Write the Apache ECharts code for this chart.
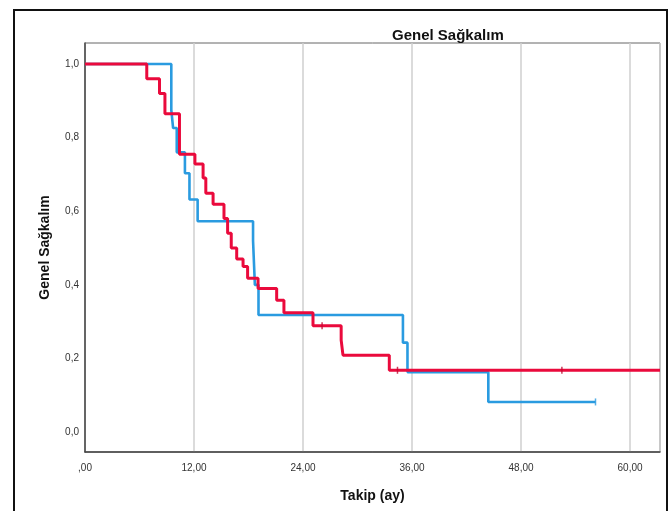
<!DOCTYPE html>
<html>
<head>
<meta charset="utf-8">
<script src="https://cdn.jsdelivr.net/npm/echarts@6/dist/echarts.min.js"></script>
<style>html,body{margin:0;padding:0;background:#fff}#c{width:670px;height:511px}</style>
</head>
<body>
<div id="c"></div>
<script>
// Kaplan-Meier step points: [time (months), survival]
var blueTimes = [0, 9.5, 9.7, 10.1, 11.0, 11.5, 12.4, 18.5, 18.7, 19.1, 35.0, 35.5, 44.4, 56.2];
var blueSurv  = [1.0, 0.875, 0.826, 0.76, 0.703, 0.632, 0.573, 0.52, 0.40, 0.318, 0.243, 0.163, 0.082, 0.082];
var redTimes  = [0, 6.8, 8.2, 8.8, 10.4, 12.1, 13.0, 13.3, 14.1, 15.3, 15.7, 16.1, 16.7, 17.4, 17.9, 19.05, 21.1, 21.9, 25.1, 28.2, 28.4, 33.5, 63.3];
var redSurv   = [1.0, 0.96, 0.92, 0.865, 0.755, 0.728, 0.69, 0.649, 0.619, 0.58, 0.54, 0.50, 0.47, 0.45, 0.418, 0.39, 0.358, 0.324, 0.289, 0.25, 0.209, 0.168, 0.168];
var redCensorT = [26.1, 34.4, 52.5];
var redCensorS = [0.289, 0.168, 0.168];
var blueCensorT = [56.2];
var blueCensorS = [0.082];
var xTicks = [0, 12, 24, 36, 48, 60];
var yTicks = [0, 0.2, 0.4, 0.6, 0.8, 1.0];

function zip(a, b) { return a.map(function (v, i) { return [v, b[i]]; }); }
var BLUE = '#2a9be0', RED = '#ea0a3c';
var chart = echarts.init(document.getElementById('c'), null, {renderer: 'canvas'});
chart.setOption({
  animation: false,
  backgroundColor: '#fff',
  title: {
    text: 'Genel Sağkalım', left: 387, top: 23,
    textStyle: {fontFamily: 'Liberation Sans', fontSize: 15, fontWeight: 'bold', color: '#111'}
  },
  grid: {left: 85, right: 10, top: 43, bottom: 59, show: true, borderColor: '#666', borderWidth: 1},
  xAxis: {
    type: 'value', min: 0, max: 63.3, interval: 12,
    name: 'Takip (ay)', nameLocation: 'middle', nameGap: 37,
    nameTextStyle: {fontFamily: 'Liberation Sans', fontSize: 14, fontWeight: 'bold', color: '#111'},
    axisLine: {show: true, onZero: false, lineStyle: {color: '#444', width: 1.5}},
    axisTick: {show: false},
    axisLabel: {
      margin: 11, fontFamily: 'Liberation Sans', fontSize: 10, color: '#333',
      customValues: xTicks,
      formatter: function (v) { return v === 0 ? ',00' : v.toFixed(2).replace('.', ','); }
    },
    splitLine: {show: true, lineStyle: {color: '#cfcfcf', width: 1.5}}
  },
  yAxis: {
    type: 'value', min: -0.054, max: 1.057,
    name: 'Genel Sağkalım', nameLocation: 'middle', nameGap: 33,
    nameTextStyle: {fontFamily: 'Liberation Sans', fontSize: 14, fontWeight: 'bold', color: '#111'},
    axisLine: {show: true, onZero: false, lineStyle: {color: '#444', width: 1.5}},
    axisTick: {show: false},
    axisLabel: {
      margin: 6, fontFamily: 'Liberation Sans', fontSize: 10, color: '#333',
      customValues: yTicks,
      formatter: function (v) { return v.toFixed(1).replace('.', ','); }
    },
    splitLine: {show: false}
  },
  series: [
    {type: 'line', step: 'end', data: zip(blueTimes, blueSurv), showSymbol: false, z: 2,
     lineStyle: {color: BLUE, width: 2.6}},
    {type: 'line', step: 'end', data: zip(redTimes, redSurv), showSymbol: false, z: 3,
     lineStyle: {color: RED, width: 3}},
    {type: 'scatter', data: zip(redCensorT, redCensorS), symbol: 'rect', symbolSize: [1.5, 7], z: 4,
     itemStyle: {color: '#c0082f'}},
    {type: 'scatter', data: zip(blueCensorT, blueCensorS), symbol: 'rect', symbolSize: [1.5, 7], z: 4,
     itemStyle: {color: BLUE}}
  ],
  graphic: [
    {type: 'rect', shape: {x: 14, y: 10, width: 653, height: 520}, silent: true, z: 100,
     style: {fill: 'none', stroke: '#111', lineWidth: 2}}
  ]
});
</script>
</body>
</html>
